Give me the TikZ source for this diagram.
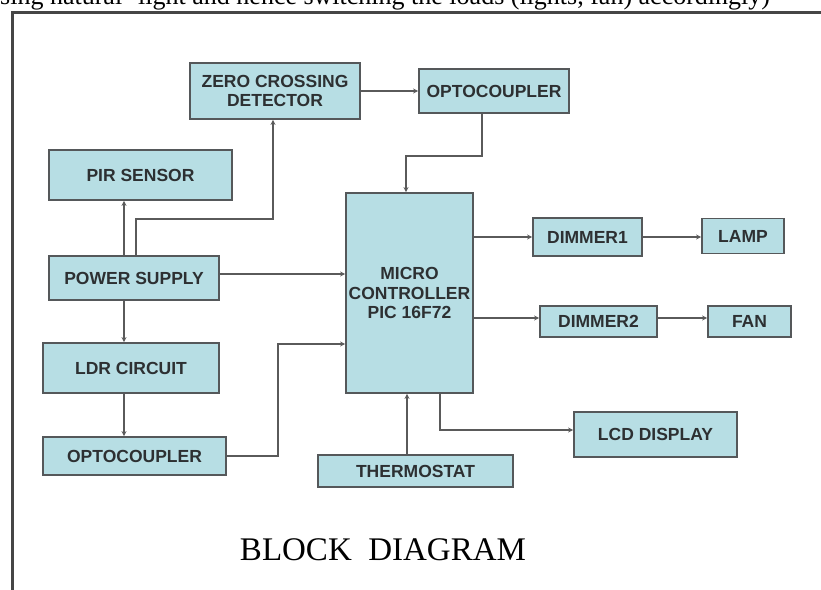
\documentclass[tikz,border=0pt]{standalone}
\usepackage{fontspec}
\setmainfont{Liberation Serif}
\newfontfamily\boxfont{Liberation Sans}
\usetikzlibrary{arrows.meta}
\definecolor{boxfill}{RGB}{183,222,228}
\definecolor{boxline}{RGB}{85,88,90}
\definecolor{boxtext}{RGB}{45,48,50}
\definecolor{wireline}{RGB}{90,90,90}
\definecolor{framecol}{RGB}{70,70,70}
\tikzset{
  blk/.style={draw=boxline, line width=1.8pt, fill=boxfill, rectangle, inner sep=0pt,
    text=boxtext, font=\boxfont\bfseries\fontsize{17.5}{19.5}\selectfont, align=center},
  wire/.style={draw=wireline, line width=1.6pt},
  arr/.style={wire, -{Stealth[length=5pt,width=5pt]}},
}
\begin{document}
\begin{tikzpicture}[x=1pt,y=-1pt]
\useasboundingbox (0,0) rectangle (821,589);
% partially cut top text
\node[anchor=base west, inner sep=0pt, font=\fontsize{26}{29}\selectfont] (toptext) at (0,5)
  {sing natural\hspace{16pt}light and hence switching the loads (lights, fan) accordingly)};
% frame
\draw[framecol, line width=2.6pt] (12.5,600) -- (12.5,12.5) -- (830,12.5);
% blocks
\node[blk, minimum width=170pt, minimum height=56pt] (zcd) at (275,91) {ZERO CROSSING\\DETECTOR};
\node[blk, minimum width=150pt, minimum height=44pt] (opt1) at (494,91) {OPTOCOUPLER};
\node[blk, minimum width=183pt, minimum height=50pt] (pir) at (140.5,175) {PIR SENSOR};
\node[blk, minimum width=127pt, minimum height=200pt] (mcu) at (409.5,293) {MICRO\\CONTROLLER\\PIC 16F72};
\node[blk, minimum width=109pt, minimum height=38pt] (dim1) at (587.5,237) {DIMMER1};
\node[blk, minimum width=82pt, minimum height=35pt] (lamp) at (743,236) {LAMP};
\node[blk, minimum width=117pt, minimum height=31pt] (dim2) at (598.5,321.5) {DIMMER2};
\node[blk, minimum width=83pt, minimum height=31pt] (fan) at (749.5,321.5) {FAN};
\node[blk, minimum width=170pt, minimum height=44pt] (ps) at (134,278) {POWER SUPPLY};
\node[blk, minimum width=176pt, minimum height=50pt] (ldr) at (131,368) {LDR CIRCUIT};
\node[blk, minimum width=183pt, minimum height=38pt] (opt2) at (134.5,456) {OPTOCOUPLER};
\node[blk, minimum width=163pt, minimum height=45pt] (lcd) at (655.5,434.5) {LCD DISPLAY};
\node[blk, minimum width=195pt, minimum height=32pt] (thermo) at (415.5,471) {THERMOSTAT};
% title
\node[font=\fontsize{33}{36}\selectfont, inner sep=0pt] (title) at (383,550) {BLOCK\ \ DIAGRAM};
% bend points
\coordinate (o1a) at (482,156);
\coordinate (o1b) at (406,156);
\coordinate (za) at (273,219);
\coordinate (zb) at (136,219);
\coordinate (o2a) at (278,456);
\coordinate (o2b) at (278,344);
\coordinate (la) at (440,430);
% connectors
\draw[arr] (zcd.east) -- (opt1.west);
\draw[arr] (opt1.south -| o1a) -- (o1a) -- (o1b) -- (o1b |- mcu.north);
\draw[arr] (ps.north -| zb) -- (zb) -- (za) -- (za |- zcd.south);
\draw[arr] (ps.north -| 124,0) -- (pir.south -| 124,0);
\draw[arr] (ps.east |- 0,274) -- (mcu.west |- 0,274);
\draw[arr] (ps.south -| 124,0) -- (ldr.north -| 124,0);
\draw[arr] (ldr.south -| 124,0) -- (opt2.north -| 124,0);
\draw[arr] (opt2.east) -- (o2a) -- (o2b) -- (mcu.west |- o2b);
\draw[arr] (mcu.east |- dim1.west) -- (dim1.west);
\draw[arr] (dim1.east) -- (lamp.west |- dim1.east);
\draw[arr] (mcu.east |- 0,318) -- (dim2.west |- 0,318);
\draw[arr] (dim2.east |- 0,318) -- (fan.west |- 0,318);
\draw[arr] (mcu.south -| la) -- (la) -- (lcd.west |- la);
\draw[arr] (thermo.north -| 407,0) -- (mcu.south -| 407,0);
\end{tikzpicture}
\end{document}
